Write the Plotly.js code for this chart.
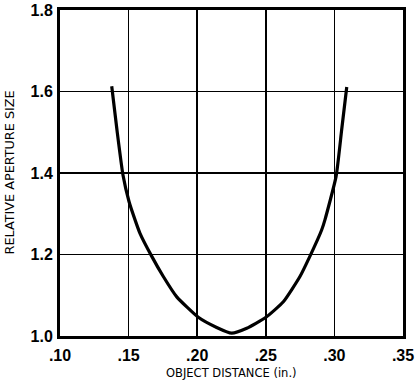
<!DOCTYPE html>
<html>
<head>
<meta charset="utf-8">
<script src="https://cdn.plot.ly/plotly-3.0.1.min.js"></script>
<style>html,body{margin:0;padding:0;background:#fff;}#chart{width:416px;height:387px;}</style>
</head>
<body>
<div id="chart"></div>
<script>
const objectDistance = [0.1377, 0.1415, 0.1459, 0.1503, 0.1547, 0.1583, 0.1668, 0.1753, 0.1851, 0.2008, 0.2142, 0.2251, 0.2361, 0.2501, 0.2628, 0.2749, 0.2822, 0.2907, 0.2931, 0.3012, 0.3053, 0.3090];
const relativeAperture = [1.613, 1.506, 1.395, 1.330, 1.285, 1.252, 1.196, 1.146, 1.096, 1.046, 1.021, 1.007, 1.019, 1.046, 1.084, 1.146, 1.196, 1.260, 1.285, 1.391, 1.506, 1.611];
const xTickVals = [0.10, 0.15, 0.20, 0.25, 0.30, 0.35];
const xTickText = ['.10', '.15', '.20', '.25', '.30', '.35'];
const yTickVals = [1.0, 1.2, 1.4, 1.6, 1.8];
const yTickText = ['1.0', '1.2', '1.4', '1.6', '1.8'];
const xTitle = 'OBJECT DISTANCE (in.)';
const yTitle = 'RELATIVE APERTURE SIZE';

const trace = {
  x: objectDistance, y: relativeAperture, mode: 'lines', type: 'scatter',
  line: {color: '#000', width: 3.2, shape: 'spline', smoothing: 0.5},
  hoverinfo: 'skip'
};
const tickFont = {family: 'Liberation Sans, Arial, sans-serif', size: 16, color: '#000', weight: 'bold'};
const layout = {
  width: 416, height: 387,
  margin: {l: 60, r: 13, t: 10, b: 51},
  paper_bgcolor: '#fff', plot_bgcolor: '#fff',
  showlegend: false,
  xaxis: {
    range: [0.10, 0.35], tickvals: xTickVals, ticktext: xTickText,
    showgrid: true, gridcolor: '#000', gridwidth: 1.5, zeroline: false,
    showline: true, linecolor: '#000', linewidth: 3, mirror: true,
    ticks: '', ticklen: 0, ticklabelstandoff: 3, tickfont: tickFont, automargin: false
  },
  yaxis: {
    range: [1.0, 1.8], tickvals: yTickVals, ticktext: yTickText,
    showgrid: true, gridcolor: '#000', gridwidth: 1.5, zeroline: false,
    showline: true, linecolor: '#000', linewidth: 3, mirror: true,
    ticks: '', ticklen: 0, ticklabelstandoff: 1, tickfont: tickFont, automargin: false
  },
  annotations: [
    {text: xTitle, xref: 'paper', yref: 'paper', x: 0.5, y: 0, xanchor: 'center', yanchor: 'middle',
     yshift: -37, showarrow: false, font: {family: 'DejaVu Sans, sans-serif', size: 11.5, color: '#000'}},
    {text: yTitle, xref: 'paper', yref: 'paper', x: 0, y: 0.5, xanchor: 'center', yanchor: 'middle',
     xshift: -51.5, textangle: -90, showarrow: false, font: {family: 'DejaVu Sans, sans-serif', size: 12.8, color: '#000'}}
  ]
};
Plotly.newPlot('chart', [trace], layout, {displayModeBar: false, staticPlot: true});
</script>
</body>
</html>
